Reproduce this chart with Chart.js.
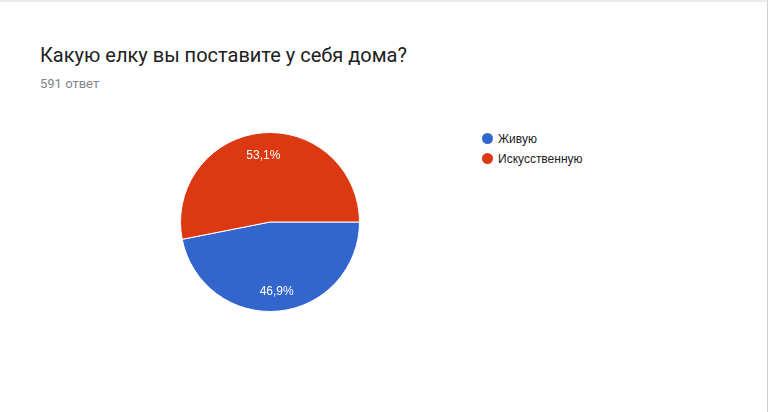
<!DOCTYPE html>
<html lang="ru">
<head>
<meta charset="utf-8">
<title>Какую елку вы поставите у себя дома?</title>
<script src="https://cdn.jsdelivr.net/npm/chart.js@4.4.1/dist/chart.umd.min.js"></script>
<style>
  html, body {
    margin: 0;
    padding: 0;
    background: #fff;
  }
  body {
    width: 770px;
    height: 412px;
    position: relative;
    overflow: hidden;
  }
  .frame {
    position: absolute;
    left: 0;
    top: 0;
    width: 768px;
    height: 412px;
    border-top: 2px solid #ebebeb;
    border-right: 1px solid #c9d3cc;
    box-sizing: border-box;
  }
  .title {
    position: absolute;
    left: 40px;
    top: 45px;
    font-family: Roboto, Arial, sans-serif;
    font-size: 20px;
    line-height: 20px;
    color: #202124;
    white-space: nowrap;
  }
  .subtitle {
    position: absolute;
    left: 40px;
    top: 77px;
    font-family: Roboto, Arial, sans-serif;
    font-size: 13px;
    line-height: 13px;
    color: #80868b;
    white-space: nowrap;
  }
  .pie-box {
    position: absolute;
    left: 180px;
    top: 132px;
    width: 180px;
    height: 180px;
  }
  .legend {
    position: absolute;
    left: 482px;
    top: 132px;
    margin: 0;
    padding: 0;
    list-style: none;
    font-family: "Liberation Sans", Arial, sans-serif;
    font-size: 12px;
    color: #222;
  }
  .legend li {
    height: 20px;
    line-height: 14px;
    display: flex;
    align-items: flex-start;
  }
  .legend .dot {
    width: 11px;
    height: 11px;
    border-radius: 50%;
    margin: 1px 5px 0 0;
  }
</style>
</head>
<body>
<div class="frame"></div>
<div class="title">Какую елку вы поставите у себя дома?</div>
<div class="subtitle">591 ответ</div>
<div class="pie-box"><canvas id="pie"></canvas></div>
<ul class="legend" id="legend"></ul>

<script>
const categories = ["Живую", "Искусственную"];
const shares = [46.9, 53.1];
const sliceColors = ["#3366cc", "#dc3912"];

// Build legend from the same arrays
const legend = document.getElementById("legend");
categories.forEach((name, i) => {
  const li = document.createElement("li");
  li.innerHTML = `<span class="dot" style="background:${sliceColors[i]}"></span>${name}`;
  legend.appendChild(li);
});

// Percent labels inside slices
const sliceLabels = {
  id: "sliceLabels",
  afterDatasetsDraw(chart) {
    const { ctx } = chart;
    const meta = chart.getDatasetMeta(0);
    ctx.save();
    ctx.font = '12px "Liberation Sans", Arial, sans-serif';
    ctx.fillStyle = "#fff";
    ctx.textAlign = "center";
    ctx.textBaseline = "alphabetic";
    meta.data.forEach((arc, i) => {
      const p = arc.getProps(["x", "y", "startAngle", "endAngle", "outerRadius"], true);
      const mid = (p.startAngle + p.endAngle) / 2;
      const r = p.outerRadius * 0.765;
      const text = shares[i].toFixed(1).replace(".", ",") + "%";
      // baseline sits ~0.4em below the visual centre of the digits
      ctx.fillText(text, p.x + Math.cos(mid) * r, p.y + Math.sin(mid) * r + 5);
    });
    ctx.restore();
  },
};

new Chart(document.getElementById("pie"), {
  type: "pie",
  data: {
    labels: categories,
    datasets: [
      {
        data: shares,
        backgroundColor: sliceColors,
        borderColor: "#fff",
        borderWidth: 1,
        hoverOffset: 0,
      },
    ],
  },
  options: {
    responsive: true,
    maintainAspectRatio: false,
    animation: false,
    rotation: 90, // first slice starts at 3 o'clock like Google Charts
    layout: { padding: 0 },
    plugins: {
      legend: { display: false },
      tooltip: { enabled: false },
    },
    events: [],
  },
  plugins: [sliceLabels],
});
</script>
</body>
</html>
